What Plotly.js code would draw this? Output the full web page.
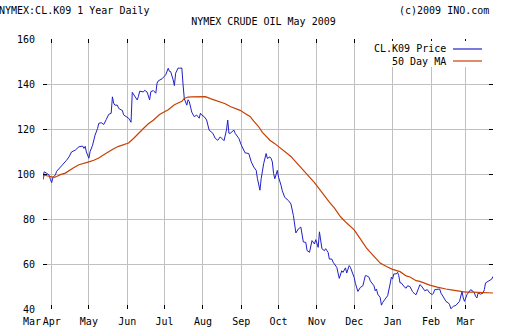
<!DOCTYPE html>
<html>
<head>
<meta charset="utf-8">
<script src="https://cdn.plot.ly/plotly-3.0.1.min.js"></script>
<style>html,body{margin:0;padding:0;background:#fff}#chart{width:512px;height:336px}</style>
</head>
<body>
<div id="chart"></div>
<script>
// Price series (CL.K09 daily close)
var priceDates = [
'2008-03-25','2008-03-26','2008-03-28','2008-03-30','2008-03-31','2008-04-01','2008-04-02','2008-04-04','2008-04-05','2008-04-08',
'2008-04-11','2008-04-13','2008-04-15','2008-04-17','2008-04-20','2008-04-23','2008-04-26','2008-04-27','2008-04-28','2008-04-29',
'2008-05-01','2008-05-02','2008-05-04','2008-05-05','2008-05-06','2008-05-08','2008-05-09','2008-05-11','2008-05-12','2008-05-13',
'2008-05-15','2008-05-17','2008-05-19','2008-05-20','2008-05-21','2008-05-22','2008-05-24','2008-05-25','2008-05-27','2008-05-28',
'2008-05-29','2008-05-31','2008-06-01','2008-06-02','2008-06-03','2008-06-04','2008-06-05','2008-06-07','2008-06-09','2008-06-10',
'2008-06-11','2008-06-14','2008-06-15','2008-06-17','2008-06-19','2008-06-20','2008-06-22','2008-06-24','2008-06-25','2008-06-26',
'2008-06-29','2008-07-02','2008-07-04','2008-07-05','2008-07-06','2008-07-08','2008-07-09','2008-07-10','2008-07-12','2008-07-13',
'2008-07-15','2008-07-16','2008-07-17','2008-07-19','2008-07-20','2008-07-21','2008-07-23','2008-07-25','2008-07-27','2008-07-28',
'2008-07-29','2008-07-30','2008-07-31','2008-08-02','2008-08-04','2008-08-06','2008-08-09','2008-08-11','2008-08-13','2008-08-15',
'2008-08-17','2008-08-18','2008-08-20','2008-08-21','2008-08-22','2008-08-23','2008-08-26','2008-08-27','2008-08-30','2008-09-01',
'2008-09-04','2008-09-07','2008-09-09','2008-09-11','2008-09-13','2008-09-14','2008-09-16','2008-09-17','2008-09-19','2008-09-21',
'2008-09-22','2008-09-24','2008-09-25','2008-09-26','2008-09-27','2008-09-28','2008-09-30','2008-10-01','2008-10-03','2008-10-04',
'2008-10-06','2008-10-08','2008-10-09','2008-10-11','2008-10-13','2008-10-15','2008-10-17','2008-10-19','2008-10-21','2008-10-23',
'2008-10-24','2008-10-26','2008-10-27','2008-10-28','2008-10-30','2008-10-31','2008-11-02','2008-11-03','2008-11-05','2008-11-07',
'2008-11-08','2008-11-10','2008-11-11','2008-11-13','2008-11-14','2008-11-15','2008-11-17','2008-11-19','2008-11-21','2008-11-22',
'2008-11-24','2008-11-25','2008-11-27','2008-11-28','2008-11-30','2008-12-01','2008-12-02','2008-12-04','2008-12-06','2008-12-08',
'2008-12-09','2008-12-10','2008-12-11','2008-12-13','2008-12-14','2008-12-15','2008-12-17','2008-12-18','2008-12-19','2008-12-20',
'2008-12-22','2008-12-23','2008-12-24','2008-12-26','2008-12-28','2008-12-30','2008-12-31','2009-01-01','2009-01-02','2009-01-04',
'2009-01-05','2009-01-06','2009-01-07','2009-01-08','2009-01-09','2009-01-11','2009-01-12','2009-01-13','2009-01-15','2009-01-16',
'2009-01-17','2009-01-19','2009-01-20','2009-01-22','2009-01-23','2009-01-24','2009-01-26','2009-01-27','2009-01-29','2009-01-31',
'2009-02-02','2009-02-03','2009-02-04','2009-02-06','2009-02-08','2009-02-09','2009-02-11','2009-02-12','2009-02-13','2009-02-15',
'2009-02-16','2009-02-17','2009-02-19','2009-02-21','2009-02-24','2009-02-25','2009-02-26','2009-02-27','2009-02-28','2009-03-02',
'2009-03-03','2009-03-05','2009-03-07','2009-03-08','2009-03-09','2009-03-10','2009-03-11','2009-03-13','2009-03-15','2009-03-16',
'2009-03-17','2009-03-19','2009-03-20','2009-03-22','2009-03-23'
];
var priceValues = [
98.9,101.0,100.3,99.5,97.5,96.2,98.5,99.6,101.2,103.0,
104.7,106.1,107.6,109.8,110.6,112.1,112.4,111.4,112.3,109.8,
107.0,110.0,112.8,115.0,117.3,120.2,122.5,122.8,122.3,122.0,
124.2,126.5,127.0,134.3,131.5,130.6,130.6,129.2,128.5,128.3,
126.3,125.5,125.5,124.8,124.0,123.0,136.3,134.4,132.9,134.5,
136.8,136.5,137.2,136.4,133.0,136.6,137.1,135.9,140.4,141.4,
142.3,144.1,147.0,145.6,145.5,141.8,139.3,144.8,147.1,147.0,
147.1,139.6,133.4,130.6,133.0,132.2,127.5,125.5,126.2,125.5,
124.8,127.0,126.2,125.5,124.0,119.5,118.1,115.8,115.0,116.5,
115.4,114.8,119.5,124.0,118.1,118.1,119.5,118.1,115.8,112.8,
109.4,109.1,105.4,103.1,101.6,97.9,92.8,97.9,104.6,109.1,
106.9,107.6,106.9,105.4,100.2,97.9,101.6,98.6,95.0,92.6,
89.6,88.9,88.2,86.7,81.5,73.8,75.6,76.4,69.8,69.6,
66.0,65.2,68.9,70.4,68.9,70.8,67.4,74.3,66.8,65.9,
66.8,65.2,62.2,62.2,60.8,60.1,58.5,53.6,57.0,56.3,
58.3,56.0,59.3,58.5,55.6,54.0,51.4,47.8,49.6,50.3,
52.5,54.8,54.8,54.1,52.5,51.8,50.3,48.1,48.9,46.6,
45.1,41.7,42.9,44.4,45.9,51.1,54.1,53.3,55.6,55.6,
56.3,54.8,51.6,51.6,50.8,49.5,49.3,50.3,50.0,48.6,
47.8,46.6,46.4,49.3,50.8,50.4,48.6,48.1,48.6,47.1,
46.4,47.1,48.6,48.9,48.9,47.1,45.6,44.4,43.4,42.7,
41.9,40.1,41.2,41.6,43.4,46.4,47.8,44.9,43.4,46.4,
47.1,48.6,47.8,47.1,45.6,44.9,47.1,46.6,47.1,48.6,
51.6,52.3,52.7,53.3,54.5
];
// 50 day moving average
var maDates = [
'2008-03-25','2008-03-26','2008-03-28','2008-03-31','2008-04-03','2008-04-05','2008-04-08','2008-04-12','2008-04-16','2008-04-19',
'2008-04-23','2008-04-27','2008-05-01','2008-05-05','2008-05-09','2008-05-13','2008-05-17','2008-05-21','2008-05-25','2008-05-29',
'2008-06-02','2008-06-06','2008-06-10','2008-06-14','2008-06-18','2008-06-22','2008-06-27','2008-07-04','2008-07-09','2008-07-15',
'2008-07-17','2008-07-20','2008-07-23','2008-07-31','2008-08-03','2008-08-07','2008-08-11','2008-08-15','2008-08-19','2008-08-23',
'2008-08-27','2008-08-31','2008-09-04','2008-09-08','2008-09-11','2008-09-15','2008-09-18','2008-09-20','2008-09-24','2008-09-28',
'2008-10-03','2008-10-07','2008-10-11','2008-10-14','2008-10-18','2008-10-22','2008-10-26','2008-10-30','2008-11-03','2008-11-07',
'2008-11-11','2008-11-15','2008-11-20','2008-11-25','2008-12-01','2008-12-06','2008-12-11','2008-12-17','2008-12-22','2008-12-27',
'2009-01-01','2009-01-07','2009-01-12','2009-01-15','2009-01-20','2009-01-23','2009-01-29','2009-01-31','2009-02-06','2009-02-08',
'2009-02-13','2009-02-16','2009-02-21','2009-02-24','2009-03-01','2009-03-07','2009-03-15','2009-03-23'
];
var maValues = [
97.5,99.7,99.2,98.7,98.5,98.9,99.7,100.4,101.9,102.9,
104.1,104.9,105.4,106.1,107.1,108.6,110.0,111.2,112.3,113.1,
113.8,115.8,117.8,120.2,122.3,123.9,126.4,128.6,130.8,132.3,
133.6,134.2,134.3,134.4,134.4,133.5,132.8,132.2,131.2,130.0,
129.2,128.3,126.9,125.6,123.5,121.0,118.5,117.3,115.0,113.5,
111.4,109.8,107.8,105.9,103.3,100.8,98.6,96.2,93.2,90.2,
87.5,84.9,81.0,78.2,75.2,71.2,67.1,63.4,60.4,58.9,
57.6,56.6,54.7,54.2,52.6,52.3,50.9,50.6,49.7,49.4,
48.9,48.6,48.1,47.9,47.5,47.5,47.2,47.1
];
// Axis ticks (first "Mar" label is drawn as a note just left of its tick, as it crowds "Apr")
var monthTickDates = ['2008-03-25','2008-04-01','2008-05-01','2008-06-01','2008-07-01','2008-08-01','2008-09-01','2008-10-01','2008-11-01','2008-12-01','2009-01-01','2009-02-01','2009-03-01'];
var monthTickLabels = ['Mar','Apr','May','Jun','Jul','Aug','Sep','Oct','Nov','Dec','Jan','Feb','Mar'];
var seriesNames = ['CL.K09 Price','50 Day MA'];

var axisTickText = monthTickLabels.map(function (t, i) { return i === 0 ? '' : t; });

var FONT = 'DejaVu Sans Mono, Liberation Mono, monospace';
var BLUE = '#2020c8', ORANGE = '#c84000';

var traces = [
  {x: priceDates, y: priceValues, type: 'scatter', mode: 'lines', name: seriesNames[0],
   line: {color: BLUE, width: 1}, showlegend: false, hoverinfo: 'skip'},
  {x: maDates, y: maValues, type: 'scatter', mode: 'lines', name: seriesNames[1],
   line: {color: ORANGE, width: 1.2}, showlegend: false, hoverinfo: 'skip'}
];

var axFont = {family: FONT, size: 10, color: '#000'};
var txtFont = {family: FONT, size: 10, color: '#000'};
var layout = {
  width: 512, height: 336,
  margin: {l: 43, r: 19, t: 39, b: 27, pad: 0},
  paper_bgcolor: '#fff', plot_bgcolor: '#fff',
  showlegend: false,
  title: {text: 'NYMEX CRUDE OIL May 2009', font: txtFont,
          x: 263.5/512, xanchor: 'center', xref: 'container', y: 1 - 21/336, yanchor: 'middle', yref: 'container'},
  xaxis: {
    type: 'date', range: ['2008-03-25', '2009-03-23'],
    tickmode: 'array', tickvals: monthTickDates, ticktext: axisTickText, tickangle: 0,
    ticks: 'inside', ticklen: 4, tickcolor: '#000', tickwidth: 1,
    showgrid: true, gridcolor: '#c0c0c0', gridwidth: 1,
    showline: false, mirror: 'ticks', zeroline: false,
    tickfont: axFont, ticklabelstandoff: 5, fixedrange: true
  },
  yaxis: {
    range: [40, 160], tick0: 40, dtick: 20,
    ticks: 'inside', ticklen: 4, tickcolor: '#000', tickwidth: 1,
    showgrid: true, gridcolor: '#c0c0c0', gridwidth: 1,
    showline: false, mirror: 'ticks', zeroline: false,
    tickfont: axFont, ticklabelstandoff: 7, fixedrange: true
  },
  shapes: [
    {type: 'rect', xref: 'paper', yref: 'paper', x0: (370-43)/450, x1: (490-43)/450, y0: 1-(67-39)/270, y1: 1-(41-39)/270,
     fillcolor: '#fff', line: {width: 0}, layer: 'above'},
    {type: 'line', xref: 'paper', yref: 'paper', x0: (453-43)/450, x1: (482-43)/450, y0: 1-(49-39)/270, y1: 1-(49-39)/270,
     line: {color: BLUE, width: 1.2}, layer: 'above'},
    {type: 'line', xref: 'paper', yref: 'paper', x0: (453-43)/450, x1: (482-43)/450, y0: 1-(61-39)/270, y1: 1-(61-39)/270,
     line: {color: ORANGE, width: 1.2}, layer: 'above'}
  ],
  annotations: [
    {text: 'NYMEX:CL.K09 1 Year Daily', xref: 'paper', yref: 'paper', x: (74-43)/450, y: 1+(39-10)/270,
     xanchor: 'center', yanchor: 'middle', showarrow: false, font: txtFont},
    {text: '(c)2009 INO.com', xref: 'paper', yref: 'paper', x: (443.5-43)/450, y: 1+(39-10)/270,
     xanchor: 'center', yanchor: 'middle', showarrow: false, font: txtFont},
    {text: seriesNames[0], xref: 'paper', yref: 'paper', x: (448-43)/450, y: 1-(49-39)/270,
     xanchor: 'right', yanchor: 'middle', showarrow: false, font: txtFont},
    {text: seriesNames[1], xref: 'paper', yref: 'paper', x: (448-43)/450, y: 1-(61-39)/270,
     xanchor: 'right', yanchor: 'middle', showarrow: false, font: txtFont},
    {text: monthTickLabels[0], xref: 'paper', yref: 'paper', x: (42.5-43)/450, y: -(321-309)/270,
     xanchor: 'right', yanchor: 'middle', showarrow: false, font: txtFont}
  ]
};

Plotly.newPlot('chart', traces, layout, {staticPlot: true, displayModeBar: false});
</script>
</body>
</html>
